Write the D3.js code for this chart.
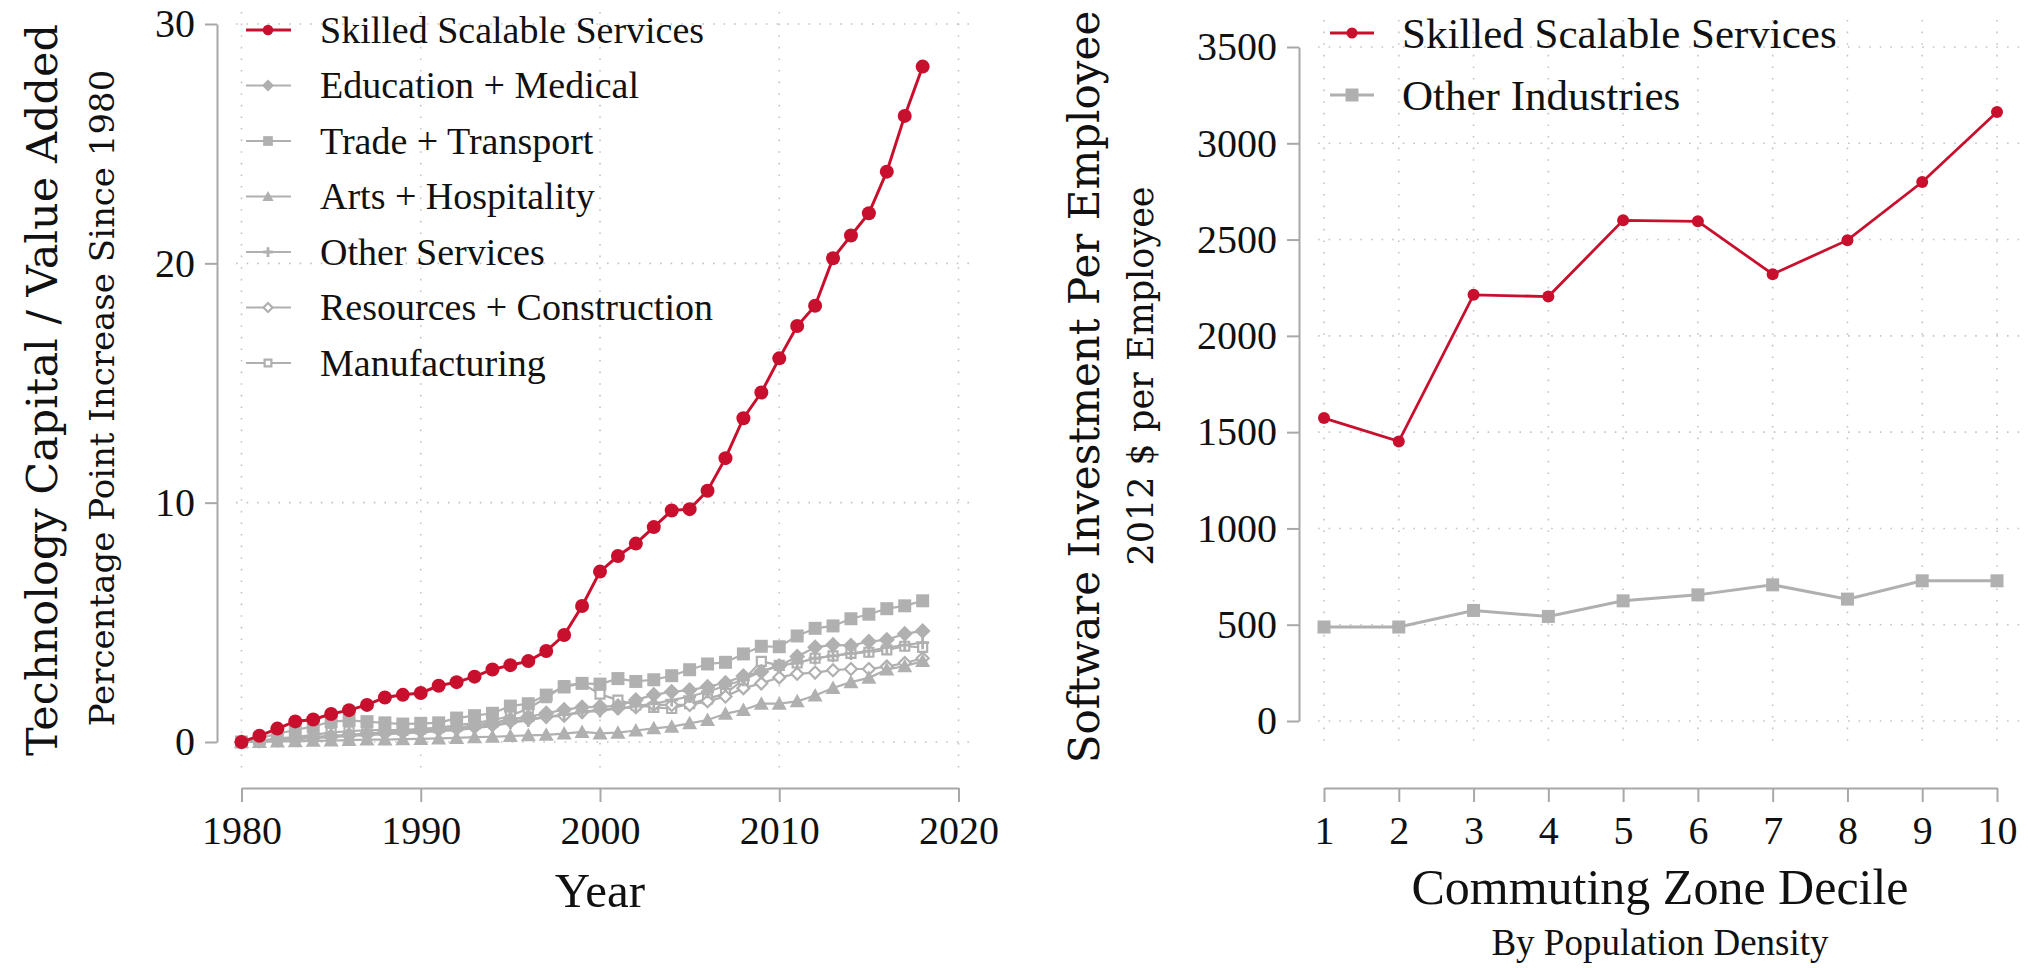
<!DOCTYPE html>
<html>
<head>
<meta charset="utf-8">
<script src="https://cdn.jsdelivr.net/npm/d3@7"></script>
<style>
  body { margin: 0; background: #fff; }
  text { fill: #111; }
</style>
</head>
<body>
<svg id="chart" width="2028" height="968"></svg>
<script>
// ---------- Panel A: technology capital by sector ----------
const years = [1980,1981,1982,1983,1984,1985,1986,1987,1988,1989,
               1990,1991,1992,1993,1994,1995,1996,1997,1998,1999,
               2000,2001,2002,2003,2004,2005,2006,2007,2008,2009,
               2010,2011,2012,2013,2014,2015,2016,2017,2018];

const skilledScalable = [0,0.26,0.56,0.86,0.94,1.17,1.33,1.55,1.86,1.97,
                         2.05,2.35,2.5,2.73,3.03,3.21,3.38,3.8,4.47,5.68,
                         7.12,7.77,8.29,8.98,9.67,9.73,10.5,11.86,13.53,14.6,
                         16.03,17.38,18.23,20.21,21.16,22.09,23.83,26.16,28.22];

const educationMedical = [0,0.05,0.1,0.15,0.2,0.25,0.3,0.35,0.4,0.45,
                          0.5,0.55,0.6,0.7,0.8,0.95,1.05,1.2,1.35,1.45,
                          1.48,1.5,1.76,1.97,2.1,2.17,2.31,2.48,2.76,2.94,
                          3.18,3.57,3.96,4.06,4.03,4.2,4.27,4.52,4.64];

const tradeTransport = [0,0.15,0.35,0.5,0.65,0.85,0.9,0.85,0.8,0.75,
                        0.78,0.8,1.0,1.1,1.2,1.5,1.6,1.96,2.3,2.45,
                        2.42,2.65,2.53,2.6,2.77,3.02,3.26,3.33,3.68,4.0,
                        3.98,4.43,4.75,4.85,5.15,5.34,5.57,5.69,5.9];

const artsHospitality = [0,0,0.02,0.03,0.05,0.06,0.08,0.1,0.1,0.12,
                         0.13,0.15,0.17,0.2,0.22,0.25,0.28,0.3,0.35,0.42,
                         0.36,0.39,0.48,0.57,0.64,0.78,0.92,1.18,1.34,1.6,
                         1.6,1.7,1.94,2.26,2.5,2.68,3.03,3.17,3.38];

const otherServices = [0,0.05,0.1,0.15,0.2,0.25,0.28,0.3,0.33,0.36,
                       0.4,0.45,0.5,0.58,0.66,0.8,0.9,1.05,1.15,1.25,
                       1.3,1.4,1.5,1.6,1.75,1.9,2.1,2.35,2.6,2.95,
                       3.2,3.3,3.5,3.6,3.7,3.8,3.95,4.05,4.15];

const resourcesConstruction = [0,0.04,0.08,0.12,0.16,0.2,0.25,0.3,0.35,0.4,
                               0.45,0.5,0.55,0.62,0.7,0.85,0.95,1.05,1.1,1.25,
                               1.35,1.4,1.45,1.55,1.55,1.55,1.7,1.9,2.25,2.45,
                               2.7,2.85,2.9,3.0,3.05,3.05,3.15,3.3,3.5];

const manufacturing = [0,0.05,0.15,0.2,0.3,0.4,0.45,0.5,0.5,0.5,
                       0.55,0.6,0.7,0.8,0.9,1.1,1.4,1.85,2.36,2.45,
                       2.0,1.75,1.55,1.45,1.4,1.6,1.8,2.03,2.6,3.37,
                       3.2,3.3,3.5,3.6,3.7,3.75,3.85,4.0,3.95];

const sectorNames = ["Skilled Scalable Services","Education + Medical","Trade + Transport",
                     "Arts + Hospitality","Other Services","Resources + Construction","Manufacturing"];
const sectorMarkers = ["circle","diamond","square","triangle","plus","diamondHollow","squareHollow"];
const yearTicks = [1980,1990,2000,2010,2020];
const shareTicks = [0,10,20,30];

// ---------- Panel B: software investment by commuting zone decile ----------
const deciles = [1,2,3,4,5,6,7,8,9,10];
const softwareSkilled = [1573,1452,2213,2204,2600,2595,2320,2497,2799,3163];
const softwareOther = [488,488,574,543,624,655,707,633,728,728];
const panelBNames = ["Skilled Scalable Services","Other Industries"];
const dollarTicks = [0,500,1000,1500,2000,2500,3000,3500];

// ---------- styling ----------
const RED = "#c8102e";
const GRAY = "#b0b0b0";
const AXIS = "#a8a8a8";
const GRID = "#c4c4c4";
const SERIF = "'Liberation Serif', 'Times New Roman', serif";
const WIDE_SERIF = "'DejaVu Serif', serif";

const svg = d3.select("#chart");

// marker path generator (centered at 0,0)
function markerPath(kind, s) {
  const h = s / 2;
  switch (kind) {
    case "circle":
      return d3.symbol(d3.symbolCircle, Math.PI * h * h)();
    case "square": case "squareHollow":
      return `M${-h},${-h}H${h}V${h}H${-h}Z`;
    case "diamond": case "diamondHollow":
      return `M0,${-h}L${h},0L0,${h}L${-h},0Z`;
    case "triangle":
      return `M0,${-h}L${h},${h * 0.8}L${-h},${h * 0.8}Z`;
    case "plus":
      return `M${-h},0H${h}M0,${-h}V${h}`;
  }
}
function styleMarker(sel, kind, color) {
  if (kind === "squareHollow" || kind === "diamondHollow") {
    sel.attr("fill", "#fff").attr("stroke", color).attr("stroke-width", 2.2);
  } else if (kind === "plus") {
    sel.attr("fill", "none").attr("stroke", color).attr("stroke-width", 2.8);
  } else {
    sel.attr("fill", color).attr("stroke", "none");
  }
}
function markerSize(kind) {
  return { circle: 14, diamond: 16, square: 13, triangle: 15, plus: 13,
           diamondHollow: 12, squareHollow: 9 }[kind];
}

// ================= Panel A =================
const xA = d3.scaleLinear().domain([1980, 2020]).range([241.5, 958.5]);
const yA = d3.scaleLinear().domain([0, 30]).range([742, 24]);
const gA = svg.append("g");

// dotted grid
gA.append("g").selectAll("line").data(yearTicks).join("line")
  .attr("x1", d => xA(d)).attr("x2", d => xA(d))
  .attr("y1", 12).attr("y2", 768)
  .attr("stroke", GRID).attr("stroke-width", 1.6).attr("stroke-dasharray", "1.6,10");
gA.append("g").selectAll("line").data(shareTicks).join("line")
  .attr("x1", 236).attr("x2", 975)
  .attr("y1", d => yA(d)).attr("y2", d => yA(d))
  .attr("stroke", GRID).attr("stroke-width", 1.6).attr("stroke-dasharray", "1.6,9");

// axes
const axA_y = gA.append("g").attr("transform", "translate(217,0)")
  .call(d3.axisLeft(yA).tickValues(shareTicks).tickSize(12).tickSizeOuter(0).tickPadding(10));
const axA_x = gA.append("g").attr("transform", "translate(0,788)")
  .call(d3.axisBottom(xA).tickValues(yearTicks).tickFormat(d3.format("d"))
        .tickSize(14).tickSizeOuter(0).tickPadding(14));
[axA_y, axA_x].forEach(ax => {
  ax.selectAll("path,line").attr("stroke", AXIS).attr("stroke-width", 2);
  ax.selectAll("text").attr("font-family", SERIF).attr("font-size", 40).attr("fill", "#111");
});

// series
const panelASeries = [skilledScalable, educationMedical, tradeTransport, artsHospitality,
                      otherServices, resourcesConstruction, manufacturing];
const lineA = d3.line().x((d, i) => xA(years[i])).y(d => yA(d));
const order = [6, 5, 4, 3, 2, 1, 0];
order.forEach(k => {
  const vals = panelASeries[k];
  const color = k === 0 ? RED : GRAY;
  const kind = sectorMarkers[k];
  const g = gA.append("g");
  g.append("path").datum(vals).attr("d", lineA)
    .attr("fill", "none").attr("stroke", color).attr("stroke-width", k === 0 ? 3 : 2.2);
  const m = g.selectAll("path.m").data(vals).join("path").attr("class", "m")
    .attr("d", markerPath(kind, markerSize(kind)))
    .attr("transform", (d, i) => `translate(${xA(years[i])},${yA(d)})`);
  styleMarker(m, kind, color);
});

// legend
const legA = gA.append("g");
sectorNames.forEach((name, k) => {
  const yy = 30 + k * 55.5;
  const color = k === 0 ? RED : GRAY;
  const kind = sectorMarkers[k];
  legA.append("line").attr("x1", 246).attr("x2", 291).attr("y1", yy).attr("y2", yy)
    .attr("stroke", color).attr("stroke-width", k === 0 ? 3 : 2.2);
  const mk = legA.append("path").attr("d", markerPath(kind, markerSize(kind) * 0.75))
    .attr("transform", `translate(268,${yy})`);
  styleMarker(mk, kind, color);
  legA.append("text").attr("x", 320).attr("y", yy).attr("dy", "0.34em")
    .attr("font-family", SERIF).attr("font-size", 38).text(name);
});

// titles
gA.append("text").attr("transform", "translate(42,390) rotate(-90)")
  .attr("text-anchor", "middle").attr("dy", "0.35em")
  .attr("font-family", WIDE_SERIF).attr("font-size", 43)
  .text("Technology Capital / Value Added");
gA.append("text").attr("transform", "translate(102,398) rotate(-90)")
  .attr("text-anchor", "middle").attr("dy", "0.35em")
  .attr("font-family", WIDE_SERIF).attr("font-size", 34)
  .text("Percentage Point Increase Since 1980");
gA.append("text").attr("x", 600).attr("y", 907).attr("text-anchor", "middle")
  .attr("font-family", SERIF).attr("font-size", 49).text("Year");

// ================= Panel B =================
const xB = d3.scaleLinear().domain([1, 10]).range([1324, 1997]);
const yB = d3.scaleLinear().domain([0, 3500]).range([721, 47]);
const gB = svg.append("g");

gB.append("g").selectAll("line").data(deciles).join("line")
  .attr("x1", d => xB(d)).attr("x2", d => xB(d))
  .attr("y1", 20).attr("y2", 746)
  .attr("stroke", GRID).attr("stroke-width", 1.6).attr("stroke-dasharray", "1.6,10");
gB.append("g").selectAll("line").data(dollarTicks).join("line")
  .attr("x1", 1318).attr("x2", 2028)
  .attr("y1", d => yB(d)).attr("y2", d => yB(d))
  .attr("stroke", GRID).attr("stroke-width", 1.6).attr("stroke-dasharray", "1.6,9");

const axB_y = gB.append("g").attr("transform", "translate(1299,0)")
  .call(d3.axisLeft(yB).tickValues(dollarTicks).tickFormat(d3.format("d"))
        .tickSize(12).tickSizeOuter(0).tickPadding(10));
const axB_x = gB.append("g").attr("transform", "translate(0,788)")
  .call(d3.axisBottom(xB).tickValues(deciles).tickFormat(d3.format("d"))
        .tickSize(14).tickSizeOuter(0).tickPadding(14));
[axB_y, axB_x].forEach(ax => {
  ax.selectAll("path,line").attr("stroke", AXIS).attr("stroke-width", 2);
  ax.selectAll("text").attr("font-family", SERIF).attr("font-size", 40).attr("fill", "#111");
});

const lineB = d3.line().x((d, i) => xB(deciles[i])).y(d => yB(d));
[[softwareOther, GRAY, "square", 13, 3], [softwareSkilled, RED, "circle", 12, 2.8]]
  .forEach(([vals, color, kind, size, w]) => {
    const g = gB.append("g");
    g.append("path").datum(vals).attr("d", lineB)
      .attr("fill", "none").attr("stroke", color).attr("stroke-width", w);
    g.selectAll("path.m").data(vals).join("path").attr("class", "m")
      .attr("d", markerPath(kind, size))
      .attr("transform", (d, i) => `translate(${xB(deciles[i])},${yB(d)})`)
      .attr("fill", color);
  });

const legB = gB.append("g");
panelBNames.forEach((name, k) => {
  const yy = 33 + k * 62;
  const color = k === 0 ? RED : GRAY;
  const kind = k === 0 ? "circle" : "square";
  legB.append("line").attr("x1", 1330).attr("x2", 1374).attr("y1", yy).attr("y2", yy)
    .attr("stroke", color).attr("stroke-width", 3);
  legB.append("path").attr("d", markerPath(kind, k === 0 ? 11 : 13))
    .attr("transform", `translate(1352,${yy})`).attr("fill", color);
  legB.append("text").attr("x", 1402).attr("y", yy).attr("dy", "0.34em")
    .attr("font-family", SERIF).attr("font-size", 43).text(name);
});

gB.append("text").attr("transform", "translate(1084,387) rotate(-90)")
  .attr("text-anchor", "middle").attr("dy", "0.35em")
  .attr("font-family", WIDE_SERIF).attr("font-size", 42)
  .text("Software Investment Per Employee");
gB.append("text").attr("transform", "translate(1141,376) rotate(-90)")
  .attr("text-anchor", "middle").attr("dy", "0.35em")
  .attr("font-family", WIDE_SERIF).attr("font-size", 35)
  .text("2012 $ per Employee");
gB.append("text").attr("x", 1660).attr("y", 904).attr("text-anchor", "middle")
  .attr("font-family", SERIF).attr("font-size", 50).text("Commuting Zone Decile");
gB.append("text").attr("x", 1660).attr("y", 955).attr("text-anchor", "middle")
  .attr("font-family", SERIF).attr("font-size", 37).text("By Population Density");
</script>
</body>
</html>
